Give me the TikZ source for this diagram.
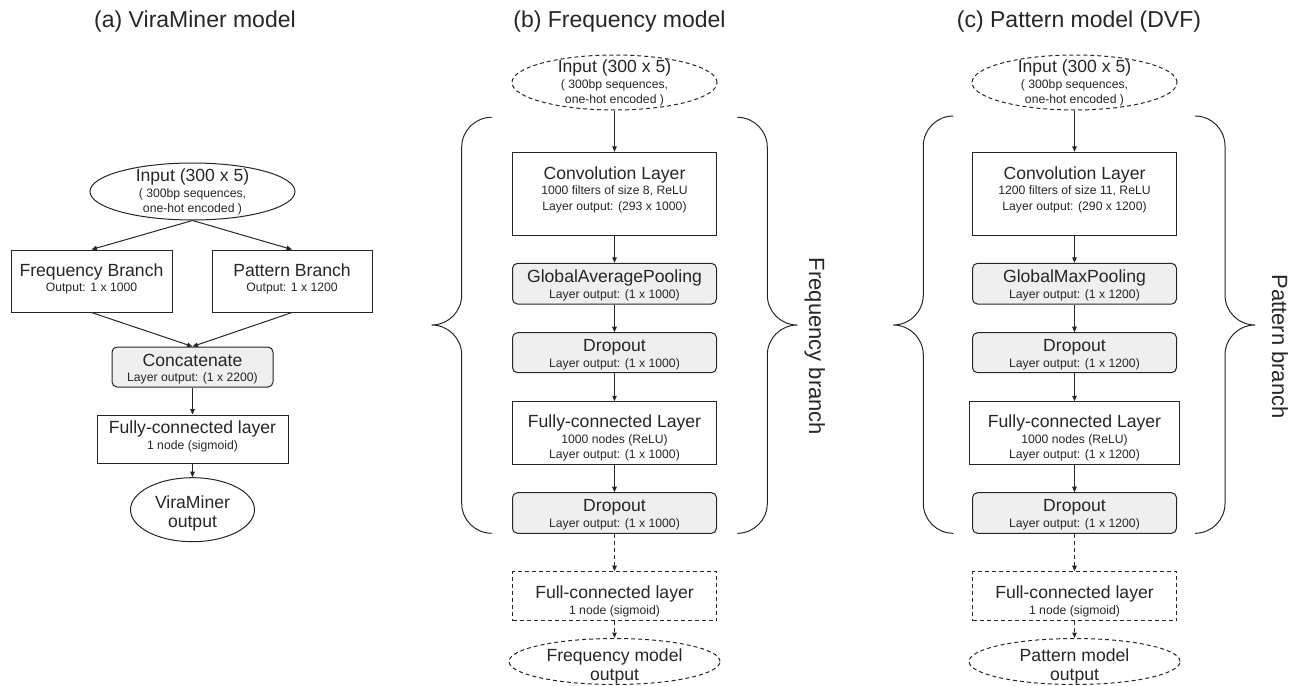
\documentclass[tikz,border=0pt]{standalone}
\usepackage{fontspec}
\setmainfont{Liberation Sans}
\usetikzlibrary{shapes.geometric,arrows.meta}
\definecolor{ink}{HTML}{262626}
\definecolor{boxgray}{HTML}{EFEFEF}
\newcommand\mainsz{\fontsize{17.6}{19}\selectfont}
\newcommand\subsz{\fontsize{12.2}{15.5}\selectfont}
\newcommand\titlesz{\fontsize{23}{27}\selectfont}
\newcommand\sidesz{\fontsize{22}{26}\selectfont}
% curly brace opening to the right: end x, top y, tip y, bottom y
\newcommand\curlyleft[4]{%
  \draw[brc] (#1,#2) .. controls (#1-16.6,#2) and (#1-30,#2+13.4) .. (#1-30,#2+30)
    -- (#1-30,#3-30) .. controls (#1-30,#3-13.4) and (#1-43.4,#3) .. (#1-60,#3)
    .. controls (#1-43.4,#3) and (#1-30,#3+13.4) .. (#1-30,#3+30)
    -- (#1-30,#4-30) .. controls (#1-30,#4-13.4) and (#1-16.6,#4) .. (#1,#4);}
% curly brace opening to the left
\newcommand\curlyright[4]{%
  \draw[brc] (#1,#2) .. controls (#1+16.6,#2) and (#1+30,#2+13.4) .. (#1+30,#2+30)
    -- (#1+30,#3-30) .. controls (#1+30,#3-13.4) and (#1+43.4,#3) .. (#1+60,#3)
    .. controls (#1+43.4,#3) and (#1+30,#3+13.4) .. (#1+30,#3+30)
    -- (#1+30,#4-30) .. controls (#1+30,#4-13.4) and (#1+16.6,#4) .. (#1,#4);}
\begin{document}
\begin{tikzpicture}[x=1pt,y=-1pt,
  box/.style={draw=ink, line width=1pt, rectangle, inner sep=0pt},
  grey/.style={box, fill=boxgray, rounded corners=5pt},
  dbox/.style={box, dash pattern=on 4pt off 3pt},
  oval/.style={draw=ink, line width=1pt, ellipse, inner sep=0pt},
  doval/.style={oval, dash pattern=on 4pt off 3pt},
  txt/.style={align=center, inner sep=0pt, anchor=north, font=\subsz, text=ink},
  ttl/.style={inner sep=0pt, anchor=base, font=\titlesz, text=ink},
  side/.style={inner sep=0pt, rotate=-90, font=\sidesz, text=ink},
  conn/.style={draw=ink, line width=1pt, -{Triangle[length=5.5pt,width=4.5pt]}},
  dconn/.style={conn, dash pattern=on 4pt off 3pt},
  brc/.style={draw=ink, line width=1pt}]
\useasboundingbox (0,0) rectangle (1303,685);

% ---------------- titles ----------------
\node[ttl] (tA) at (195,27.3) {(a) ViraMiner model};
\node[ttl] (tB) at (619.5,27.3) {(b) Frequency model};
\node[ttl] (tC) at (1079,27.3) {(c) Pattern model (DVF)};

% ---------------- (a) ViraMiner model ----------------
\node[oval, minimum width=205, minimum height=57] (inA) at (192.5,191.5) {};
\node[txt] (inAt) at (192.5,169) {{\mainsz Input (300 x 5)}\\( 300bp sequences,\\one-hot encoded )};
\node[box, minimum width=161, minimum height=62] (freqA) at (91.5,281) {};
\node[txt] (freqAt) at (91.5,263.3) {{\mainsz Frequency Branch}\\Output: 1 x 1000};
\node[box, minimum width=160, minimum height=62] (patA) at (292,281) {};
\node[txt] (patAt) at (292,263.3) {{\mainsz Pattern Branch}\\Output: 1 x 1200};
\node[grey, minimum width=161, minimum height=40] (concA) at (192.5,367) {};
\node[txt] (concAt) at (192.5,354) {{\mainsz Concatenate}\\Layer output: (1 x 2200)};
\node[box, minimum width=191, minimum height=48] (fcA) at (192.5,439) {};
\node[txt] (fcAt) at (192.5,420.6) {{\mainsz Fully-connected layer}\\1 node (sigmoid)};
\node[oval, minimum width=124, minimum height=64] (outA) at (192.5,509.7) {};
\node[txt, font=\mainsz] (outAt) at (192.5,495.6) {ViraMiner\\output};

\draw[conn] (inA.south) -- (freqA.north);
\draw[conn] (inA.south) -- (patA.north);
\draw[conn] (freqA.south) -- (concA.north);
\draw[conn] (patA.south) -- (concA.north);
\draw[conn] (concA) -- (fcA);
\draw[conn] (fcA) -- (outA);

% ---------------- (b) Frequency model ----------------
\node[doval, minimum width=205, minimum height=55] (inB) at (614.5,82.5) {};
\node[txt] (inBt) at (614.5,59.6) {{\mainsz Input (300 x 5)}\\( 300bp sequences,\\one-hot encoded )};
\node[box, minimum width=204, minimum height=82.7] (convB) at (614.5,193.7) {};
\node[txt] (convBt) at (614.5,166.5) {{\mainsz Convolution Layer}\\1000 filters of size 8, ReLU\\Layer output: (293 x 1000)};
\node[grey, minimum width=204, minimum height=40.7] (gapB) at (614.5,283.7) {};
\node[txt] (gapBt) at (614.5,270) {{\mainsz GlobalAveragePooling}\\Layer output: (1 x 1000)};
\node[grey, minimum width=204, minimum height=40] (dropB) at (614.5,352.7) {};
\node[txt] (dropBt) at (614.5,339.3) {{\mainsz Dropout}\\Layer output: (1 x 1000)};
\node[box, minimum width=204, minimum height=62.3] (fcB) at (614.5,432.9) {};
\node[txt] (fcBt) at (614.5,414.6) {{\mainsz Fully-connected Layer}\\1000 nodes (ReLU)\\Layer output: (1 x 1000)};
\node[grey, minimum width=204, minimum height=40.6] (dropBB) at (614.5,513) {};
\node[txt] (dropBBt) at (614.5,499.3) {{\mainsz Dropout}\\Layer output: (1 x 1000)};
\node[dbox, minimum width=204, minimum height=49] (fcdB) at (614.5,596.2) {};
\node[txt] (fcdBt) at (614.5,586) {{\mainsz Full-connected layer}\\1 node (sigmoid)};
\node[doval, minimum width=211, minimum height=46] (outB) at (614.5,661.5) {};
\node[txt, font=\mainsz] (outBt) at (614.5,648.3) {Frequency model\\output};

\draw[conn] (inB) -- (convB);
\draw[conn] (convB) -- (gapB);
\draw[conn] (gapB) -- (dropB);
\draw[conn] (dropB) -- (fcB);
\draw[conn] (fcB) -- (dropBB);
\draw[dconn] (dropBB) -- (fcdB);
\draw[dconn] (fcdB) -- (outB);

\curlyleft{491.7}{117.3}{325}{533.3}
\curlyright{737.3}{117.3}{325}{533.3}
\node[side] (sideB) at (814.7,346.5) {Frequency branch};

% ---------------- (c) Pattern model ----------------
\node[doval, minimum width=205, minimum height=55] (inC) at (1074.5,82.5) {};
\node[txt] (inCt) at (1074.5,59.6) {{\mainsz Input (300 x 5)}\\( 300bp sequences,\\one-hot encoded )};
\node[box, minimum width=204, minimum height=82.7] (convC) at (1074.5,193.7) {};
\node[txt] (convCt) at (1074.5,166.5) {{\mainsz Convolution Layer}\\1200 filters of size 11, ReLU\\Layer output: (290 x 1200)};
\node[grey, minimum width=204, minimum height=40.7] (gapC) at (1074.5,283.7) {};
\node[txt] (gapCt) at (1074.5,270) {{\mainsz GlobalMaxPooling}\\Layer output: (1 x 1200)};
\node[grey, minimum width=204, minimum height=40] (dropC) at (1074.5,352.7) {};
\node[txt] (dropCt) at (1074.5,339.3) {{\mainsz Dropout}\\Layer output: (1 x 1200)};
\node[box, minimum width=210.7, minimum height=62.3] (fcC) at (1074.5,432.9) {};
\node[txt] (fcCt) at (1074.5,414.6) {{\mainsz Fully-connected Layer}\\1000 nodes (ReLU)\\Layer output: (1 x 1200)};
\node[grey, minimum width=204, minimum height=40.6] (dropCC) at (1074.5,513) {};
\node[txt] (dropCCt) at (1074.5,499.3) {{\mainsz Dropout}\\Layer output: (1 x 1200)};
\node[dbox, minimum width=204, minimum height=49] (fcdC) at (1074.5,596.2) {};
\node[txt] (fcdCt) at (1074.5,586) {{\mainsz Full-connected layer}\\1 node (sigmoid)};
\node[doval, minimum width=211, minimum height=46] (outC) at (1074.5,661.5) {};
\node[txt, font=\mainsz] (outCt) at (1074.5,648.3) {Pattern model\\output};

\draw[conn] (inC) -- (convC);
\draw[conn] (convC) -- (gapC);
\draw[conn] (gapC) -- (dropC);
\draw[conn] (dropC) -- (fcC);
\draw[conn] (fcC) -- (dropCC);
\draw[dconn] (dropCC) -- (fcdC);
\draw[dconn] (fcdC) -- (outC);

\curlyleft{953.3}{116}{325}{533.3}
\curlyright{1195}{116}{325}{533.3}
\node[side] (sideC) at (1280,346.5) {Pattern branch};
\end{tikzpicture}
\end{document}
